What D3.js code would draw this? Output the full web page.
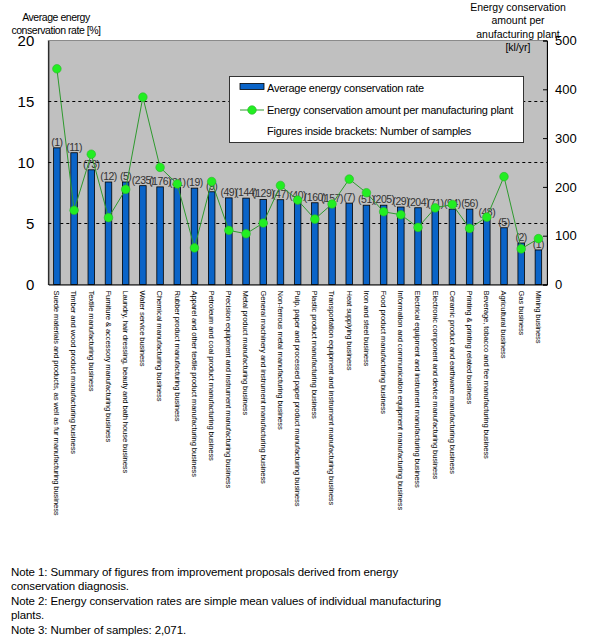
<!DOCTYPE html>
<html>
<head>
<meta charset="utf-8">
<script src="https://cdn.jsdelivr.net/npm/d3@7"></script>
<style>
  body { margin: 0; background: #fff; }
  svg { font-family: 'Liberation Sans', Arial, sans-serif; display: block; }
</style>
</head>
<body>
<svg id="chart" width="600" height="642"></svg>
<script>
// categories, left to right
const industries = [
  'Suede materials and products, as well as fur manufacturing business',
  'Timber and wood product manufacturing business',
  'Textile manufacturing business',
  'Furniture & accessory manufacturing business',
  'Laundry, hair dressing, beauty and bath house business',
  'Water service business',
  'Chemical manufacturing business',
  'Rubber product manufacturing business',
  'Apparel and other textile product manufacturing business',
  'Petroleum and coal product manufacturing business',
  'Precision equipment and instrument manufacturing business',
  'Metal product manufacturing business',
  'General machinery and instrument manufacturing business',
  'Non-ferrous metal manufacturing business',
  'Pulp, paper and processed paper product manufacturing business',
  'Plastic product manufacturing business',
  'Transportation equipment and instrument manufacturing business',
  'Heat supplying business',
  'Iron and steel business',
  'Food product manufacturing business',
  'Information and communication equipment manufacturing business',
  'Electrical equipment and instrument manufacturing business',
  'Electronic component and device manufacturing business',
  'Ceramic product and earthware manufacturing business',
  'Printing & printing related business',
  'Beverage, tobacco and fee manufacturing business',
  'Agricultural business',
  'Gas business',
  'Mining business'
];

// average energy conservation rate [%]
const rates = [11.2, 10.8, 9.4, 8.4, 8.4, 8.1, 8.0, 7.95, 7.9, 7.6, 7.1, 7.08, 6.97, 6.95, 6.86,
  6.7, 6.6, 6.67, 6.5, 6.5, 6.35, 6.29, 6.2, 6.18, 6.18, 5.45, 4.65, 3.4, 2.83];

// energy conservation amount per manufacturing plant [kl/yr]
const amounts = [442, 152, 267, 137, 195, 384, 240, 206, 75, 211, 111, 104, 126, 203, 173,
  134, 165, 216, 188, 149, 143, 117, 157, 164, 115, 138, 221, 73, 94];

// number of samples
const samples = [1, 11, 73, 12, 5, 235, 176, 31, 19, 9, 49, 144, 129, 47, 40,
  160, 157, 7, 51, 205, 29, 204, 71, 94, 56, 48, 5, 2, 1];

const leftTicks = [0, 5, 10, 15, 20];
const rightTicks = [0, 100, 200, 300, 400, 500];
const gridTicks = [5, 10, 15];

const notes = [
  'Note 1: Summary of figures from improvement proposals derived from energy',
  'conservation diagnosis.',
  'Note 2: Energy conservation rates are simple mean values of individual manufacturing',
  'plants.',
  'Note 3: Number of samples: 2,071.'
];

const plotLeft = 48.3, plotRight = 547, plotTop = 40.5, plotBottom = 284.5;
const svg = d3.select('#chart');

let x = d3.scaleBand().domain(industries).range([plotLeft, plotRight]).paddingInner(0.62).paddingOuter(0.31);
let yL = d3.scaleLinear().domain([0, 20]).range([plotBottom, plotTop]);
let yR = d3.scaleLinear().domain([0, 500]).range([plotBottom, plotTop]);

// plot background
svg.append('rect')
  .attr('x', plotLeft).attr('y', plotTop)
  .attr('width', plotRight - plotLeft).attr('height', plotBottom - plotTop)
  .attr('fill', '#c0c0c0').attr('stroke', '#8a8a8a');

// dashed gridlines
svg.selectAll('line.grid')
  .data(gridTicks)
  .join('line')
  .attr('class', 'grid')
  .attr('x1', plotLeft).attr('x2', plotRight)
  .attr('y1', (d) => yL(d)).attr('y2', (d) => yL(d))
  .attr('stroke', '#000').attr('stroke-width', 1)
  .attr('stroke-dasharray', '3,3');

// bars
svg.selectAll('rect.bar')
  .data(rates)
  .join('rect')
  .attr('class', 'bar')
  .attr('x', (d, i) => x(industries[i]))
  .attr('y', (d) => yL(d))
  .attr('width', x.bandwidth())
  .attr('height', (d) => plotBottom - yL(d))
  .attr('fill', '#0a64c8')
  .attr('stroke', '#000').attr('stroke-width', 0.8);

// sample count labels
svg.selectAll('text.count')
  .data(samples)
  .join('text')
  .attr('class', 'count')
  .attr('x', (d, i) => x(industries[i]) + x.bandwidth() / 2)
  .attr('y', (d, i) => yL(rates[i]) - 2)
  .attr('text-anchor', 'middle')
  .attr('font-size', 10.5)
  .attr('letter-spacing', -0.5)
  .attr('fill', '#333')
  .text((d) => `(${d})`);

// line + markers
let line = d3.line()
  .x((d, i) => x(industries[i]) + x.bandwidth() / 2)
  .y((d) => yR(d));

svg.append('path')
  .attr('d', line(amounts))
  .attr('fill', 'none')
  .attr('stroke', '#2e9a2e').attr('stroke-width', 1);

svg.selectAll('circle.pt')
  .data(amounts)
  .join('circle')
  .attr('class', 'pt')
  .attr('cx', (d, i) => x(industries[i]) + x.bandwidth() / 2)
  .attr('cy', (d) => yR(d))
  .attr('r', 4.3)
  .attr('fill', '#22ee22')
  .attr('stroke', '#2bb52b').attr('stroke-width', 0.6);

// axes
let leftAxis = svg.append('g')
  .attr('transform', `translate(${plotLeft},0)`)
  .call(d3.axisLeft(yL).tickValues(leftTicks).tickSize(0).tickPadding(14).tickFormat(d3.format('d')));
leftAxis.select('.domain').attr('stroke', '#000');
leftAxis.selectAll('text').attr('font-size', 15).attr('fill', '#000');

let rightAxis = svg.append('g')
  .attr('transform', `translate(${plotRight},0)`)
  .call(d3.axisRight(yR).tickValues(rightTicks).tickSize(-4).tickPadding(8).tickFormat(d3.format('d')));
rightAxis.select('.domain').attr('stroke', '#000');
rightAxis.selectAll('text').attr('font-size', 13).attr('fill', '#000');

let bottomAxis = svg.append('g')
  .attr('transform', `translate(0,${plotBottom})`)
  .call(d3.axisBottom(x).tickSize(0).tickSizeOuter(0));
bottomAxis.select('.domain').attr('stroke', '#000');
bottomAxis.selectAll('text')
  .attr('transform', 'rotate(90)')
  .attr('x', 6).attr('y', 0).attr('dy', '0.35em')
  .attr('text-anchor', 'start')
  .attr('font-size', 7.6)
  .attr('letter-spacing', -0.1)
  .attr('fill', '#000');

// axis titles
svg.append('text')
  .attr('x', 56).attr('y', 21)
  .attr('text-anchor', 'middle').attr('font-size', 10.5)
  .attr('letter-spacing', -0.45)
  .selectAll('tspan')
  .data(['Average energy', 'conservation rate [%]'])
  .join('tspan')
  .attr('x', 56).attr('dy', (d, i) => (i ? 12.5 : 0))
  .text((d) => d);

svg.append('text')
  .attr('x', 518).attr('y', 11)
  .attr('text-anchor', 'middle').attr('font-size', 10.5)
  .selectAll('tspan')
  .data(['Energy conservation', 'amount per', 'anufacturing plant', '[kl/yr]'])
  .join('tspan')
  .attr('x', 518).attr('dy', (d, i) => (i ? 13.3 : 0))
  .text((d) => d);

// legend
let legend = svg.append('g');
legend.append('rect')
  .attr('x', 229.5).attr('y', 76.5).attr('width', 294).attr('height', 66)
  .attr('fill', '#fff').attr('stroke', '#333').attr('stroke-width', 1);
legend.append('rect')
  .attr('x', 240).attr('y', 83.5).attr('width', 24).attr('height', 6)
  .attr('fill', '#0a64c8').attr('stroke', '#000').attr('stroke-width', 0.8);
legend.append('line')
  .attr('x1', 240).attr('x2', 264).attr('y1', 110).attr('y2', 110)
  .attr('stroke', '#2e9a2e');
legend.append('circle')
  .attr('cx', 252).attr('cy', 110).attr('r', 4.3)
  .attr('fill', '#22ee22').attr('stroke', '#2bb52b').attr('stroke-width', 0.6);
legend.selectAll('text')
  .data(['Average energy conservation rate', 'Energy conservation amount per manufacturing plant',
    'Figures inside brackets: Number of samples'])
  .join('text')
  .attr('x', 267)
  .attr('y', (d, i) => 92 + i * 21.7)
  .attr('font-size', 11)
  .attr('letter-spacing', -0.25)
  .text((d) => d);

// notes
svg.selectAll('text.note')
  .data(notes)
  .join('text')
  .attr('class', 'note')
  .attr('x', 11)
  .attr('y', (d, i) => 576 + i * 14.4)
  .attr('font-size', 11.5)
  .attr('letter-spacing', -0.1)
  .text((d) => d);
</script>
</body>
</html>
